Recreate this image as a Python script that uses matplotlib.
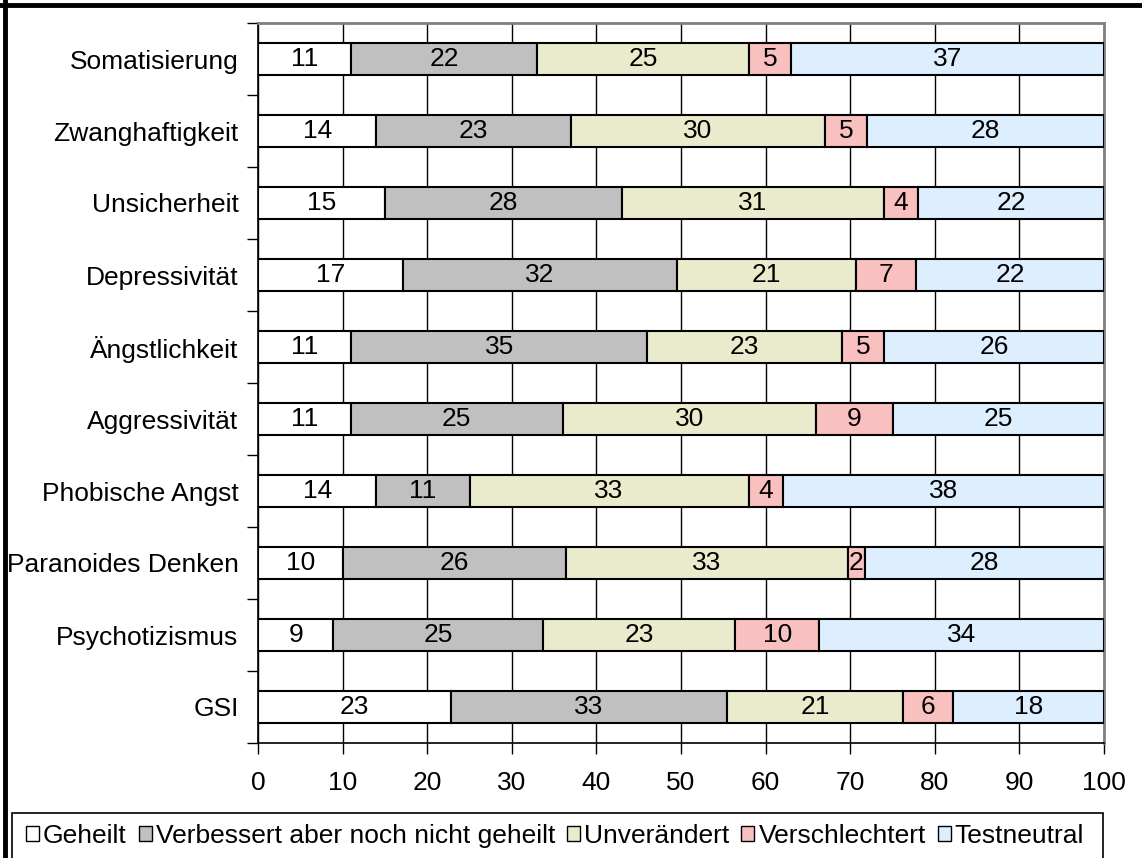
import matplotlib
matplotlib.use("Agg")
import matplotlib.pyplot as plt
import numpy as np
from matplotlib.lines import Line2D
from matplotlib.patches import Patch, Rectangle

plt.rcParams['font.family'] = ['Liberation Sans', 'DejaVu Sans']

categories = ["Somatisierung", "Zwanghaftigkeit", "Unsicherheit", "Depressivität",
              "Ängstlichkeit", "Aggressivität", "Phobische Angst", "Paranoides Denken",
              "Psychotizismus", "GSI"]
series_names = ["Geheilt", "Verbessert aber noch nicht geheilt", "Unverändert",
                "Verschlechtert", "Testneutral"]
geheilt = [11, 14, 15, 17, 11, 11, 14, 10, 9, 23]
verbessert = [22, 23, 28, 32, 35, 25, 11, 26, 25, 33]
unveraendert = [25, 30, 31, 21, 23, 30, 33, 33, 23, 21]
verschlechtert = [5, 5, 4, 7, 5, 9, 4, 2, 10, 6]
testneutral = [37, 28, 22, 22, 26, 25, 38, 28, 34, 18]
colors = ["#FFFFFF", "#C0C0C0", "#EAEACC", "#F9C0C0", "#DDEEFF"]

data = np.array([geheilt, verbessert, unveraendert, verschlechtert, testneutral], dtype=float)
pct = data / data.sum(axis=0) * 100

FS = 19

fig = plt.figure(figsize=(11.42, 8.58), dpi=100)
ax = fig.add_axes([258/1142, 1-743/858, (1104-258)/1142, (743-23)/858])

n = len(categories)
y = np.arange(n)[::-1].astype(float)
left = np.zeros(n)
for i in range(5):
    bars = ax.barh(y, pct[i], left=left, height=0.44, color=colors[i],
                   edgecolor="black", linewidth=1.5, zorder=3)
    for j, b in enumerate(bars):
        ax.text(left[j] + pct[i][j] / 2, y[j], f"{int(data[i][j])}", ha="center",
                va="center", fontsize=FS, zorder=4)
    left += pct[i]

ax.set_xlim(0, 100)
ax.set_ylim(-0.5, n - 0.5)
ax.set_xticks(np.arange(0, 101, 10))
ax.tick_params(axis="x", labelsize=FS, length=8, width=1, direction="out", pad=12)
ax.set_yticks(np.arange(-0.5, n, 1.0))
ax.set_yticklabels([])
ax.set_yticks(y, minor=True)
ax.set_yticklabels(categories, minor=True, fontsize=FS)
ax.tick_params(axis="y", which="major", length=8, width=1, direction="out")
ax.tick_params(axis="y", which="minor", length=0, pad=14)
ax.grid(axis="x", color="black", linewidth=1, zorder=0)
for s in ["top", "right"]:
    ax.spines[s].set_color("#808080")
    ax.spines[s].set_linewidth(2)
for s in ["left", "bottom"]:
    ax.spines[s].set_color("black")
    ax.spines[s].set_linewidth(1.2)

# legend box
fig.add_artist(Rectangle((12/1142, -0.05), (1103-12)/1142, 0.05 + (858-813)/858,
                         transform=fig.transFigure, facecolor="white",
                         edgecolor="black", linewidth=1.2))
handles = [Patch(facecolor=c, edgecolor="black", linewidth=1) for c in colors]
leg = fig.legend(handles, series_names, loc="center", ncol=5,
                 bbox_to_anchor=(555/1142, 1-836/858), fontsize=19,
                 frameon=False,
                 handlelength=0.5, handleheight=0.5, handletextpad=0.15,
                 columnspacing=0.45, borderpad=0.2, borderaxespad=0)

# figure frame
fig.add_artist(Line2D([0, 1], [1-4.5/858, 1-4.5/858], transform=fig.transFigure,
                      color="black", linewidth=3.5))
fig.add_artist(Line2D([5/1142, 5/1142], [0, 1], transform=fig.transFigure,
                      color="black", linewidth=3.5))

fig.savefig("out.png", dpi=100)
